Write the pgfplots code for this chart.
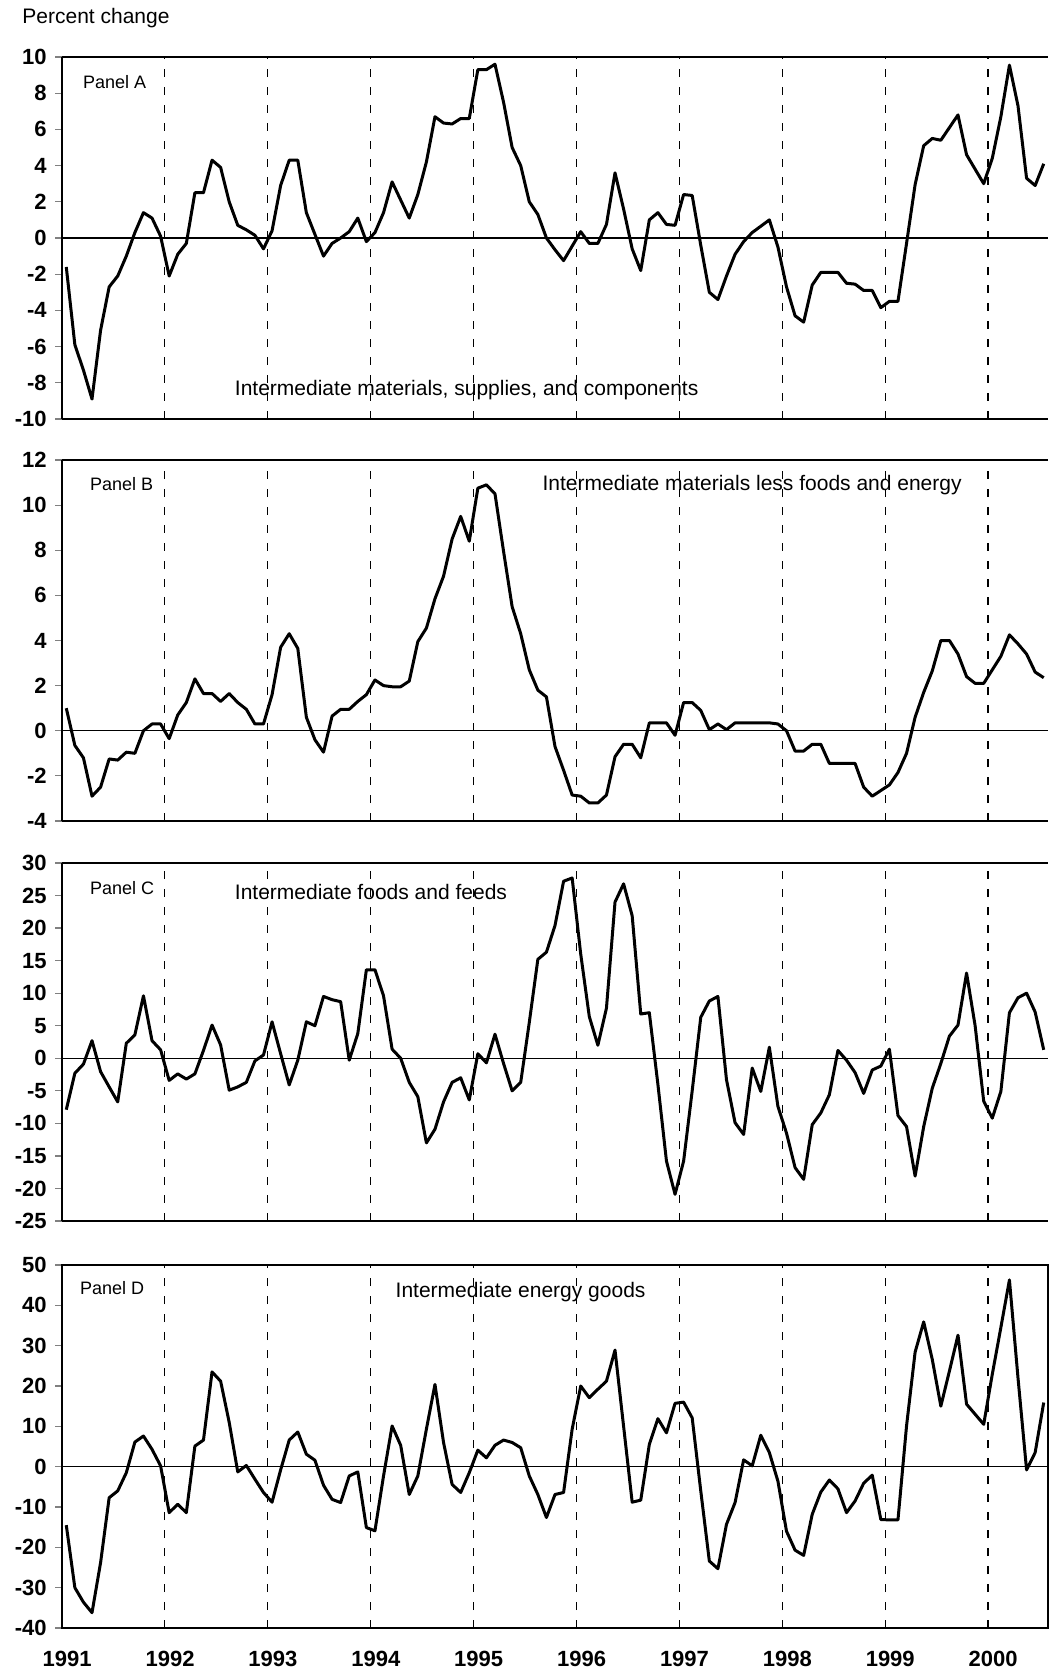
\documentclass[border=0pt]{standalone}
\usepackage{pgfplots}
\pgfplotsset{compat=1.18}
\usepackage{pgfplotstable}
\usepackage{fontspec}
\setmainfont{Liberation Sans}

% monthly percent changes, Jan 1991 - Jul 2000
\pgfplotstableread{
a b c d
-1.6 1.0 -7.9 -14.5
-5.9 -0.65 -2.3 -30.0
-7.3 -1.2 -0.9 -33.6
-8.9 -2.9 2.7 -36.2
-5.1 -2.5 -2.05 -23.8
-2.7 -1.25 -4.4 -7.7
-2.1 -1.3 -6.7 -6.0
-1.0 -0.95 2.3 -1.5
0.3 -1.0 3.6 6.1
1.4 0.0 9.6 7.6
1.1 0.3 2.7 4.3
0.1 0.3 1.3 0.2
-2.1 -0.35 -3.4 -11.4
-0.9 0.7 -2.4 -9.3
-0.3 1.25 -3.2 -11.4
2.5 2.3 -2.4 5.1
2.5 1.65 1.2 6.6
4.3 1.65 5.1 23.5
3.9 1.3 2.05 21.2
2.0 1.65 -4.9 11.0
0.7 1.25 -4.4 -1.3
0.45 0.95 -3.7 0.3
0.15 0.3 -0.4 -3.1
-0.6 0.3 0.5 -6.4
0.4 1.6 5.6 -8.8
2.9 3.7 0.7 -0.8
4.3 4.3 -4.1 6.6
4.3 3.65 -0.3 8.6
1.4 0.6 5.6 3.1
0.2 -0.4 5.0 1.6
-1.0 -0.95 9.5 -4.6
-0.3 0.65 9.0 -8.1
0.0 0.95 8.7 -8.9
0.35 0.95 -0.3 -2.3
1.1 1.3 3.8 -1.3
-0.2 1.6 13.6 -15.1
0.3 2.25 13.6 -15.9
1.4 2.0 9.6 -2.3
3.1 1.95 1.4 10.1
2.1 1.95 0.0 5.3
1.1 2.2 -3.7 -6.9
2.4 3.95 -5.9 -2.3
4.2 4.55 -13.0 9.3
6.7 5.85 -10.9 20.4
6.35 6.85 -6.7 6.0
6.3 8.5 -3.7 -4.4
6.6 9.5 -3.0 -6.4
6.6 8.4 -6.4 -1.5
9.3 10.75 0.7 4.1
9.3 10.9 -0.7 2.2
9.6 10.5 3.7 5.3
7.5 7.95 -0.8 6.6
5.0 5.5 -5.0 6.0
4.0 4.3 -3.7 4.7
2.0 2.7 5.5 -2.3
1.3 1.8 15.2 -6.9
0.0 1.5 16.3 -12.6
-0.65 -0.7 20.4 -6.9
-1.25 -1.75 27.2 -6.4
-0.45 -2.85 27.7 9.3
0.35 -2.9 16.0 20.0
-0.3 -3.2 6.4 17.1
-0.3 -3.2 2.0 19.2
0.75 -2.85 7.7 21.2
3.6 -1.15 24.0 28.9
1.6 -0.6 26.8 10.0
-0.6 -0.6 21.9 -8.8
-1.8 -1.2 6.8 -8.3
1.0 0.35 7.0 5.5
1.4 0.35 -4.0 11.9
0.75 0.35 -15.8 8.4
0.7 -0.2 -20.9 15.7
2.4 1.25 -15.8 16.0
2.35 1.25 -5.0 12.1
-0.4 0.9 6.3 -6.0
-3.0 0.05 8.8 -23.4
-3.4 0.3 9.5 -25.3
-2.1 0.05 -3.3 -14.3
-0.9 0.35 -9.9 -8.9
-0.2 0.35 -11.7 1.7
0.3 0.35 -1.5 0.2
0.65 0.35 -5.1 7.8
1.0 0.35 1.7 3.5
-0.5 0.3 -7.4 -3.6
-2.7 0.0 -11.5 -16.0
-4.3 -0.9 -16.8 -20.7
-4.65 -0.9 -18.6 -22.0
-2.6 -0.6 -10.2 -11.8
-1.9 -0.6 -8.4 -6.3
-1.9 -1.45 -5.6 -3.3
-1.9 -1.45 1.2 -5.5
-2.5 -1.45 -0.3 -11.4
-2.55 -1.45 -2.2 -8.5
-2.9 -2.5 -5.4 -4.1
-2.9 -2.9 -1.8 -2.1
-3.85 -2.65 -1.2 -13.1
-3.5 -2.4 1.4 -13.2
-3.5 -1.85 -8.8 -13.2
-0.3 -1.0 -10.5 10.1
2.95 0.6 -18.1 28.4
5.1 1.7 -10.5 35.9
5.5 2.65 -4.6 26.6
5.4 4.0 -0.8 15.0
6.1 4.0 3.4 23.7
6.8 3.4 5.1 32.6
4.6 2.4 13.1 15.5
3.8 2.1 5.0 13.0
3.0 2.1 -6.6 10.5
4.4 2.7 -9.2 22.9
6.7 3.3 -5.1 34.5
9.55 4.25 7.0 46.3
7.3 3.85 9.3 22.0
3.3 3.4 10.0 -0.8
2.9 2.6 7.1 3.5
4.1 2.35 1.3 15.9
}\ppi

\pgfplotsset{
  panel/.style={
    scale only axis, width=493pt, anchor=north west,
    xmin=0, xmax=115,
    axis x line*=box, axis y line*=left,
    axis line style={line width=0.8pt},
    xtick={12,24,36,48,60,72,84,96,108}, xticklabels={},
    xtick style={draw=none},
    xmajorgrids,
    grid style={black, line width=0.6pt, dash pattern=on 4pt off 5pt},
    tick align=outside, major tick length=3.5pt,
    ytick style={line width=0.6pt},
    /pgf/number format/assume math mode=true,
    yticklabel style={font=\fontsize{11}{12}\selectfont\bfseries, xshift=-4pt},
  },
  series/.style={black, line width=1.5pt, line join=round},
}

\newcommand{\zeroline}{\draw[line width=0.6pt] (axis cs:0,0) -- (axis cs:115,0);}

\begin{document}
\begin{tikzpicture}[every node/.append style={inner sep=0pt}]
\path[use as bounding box] (0,0) rectangle (524.5pt,-836.5pt);
\node[anchor=west, font=\fontsize{10.5}{11}\selectfont] at (11pt,-9pt) {Percent change};

% Panel A
\begin{axis}[panel, at={(31pt,-28.5pt)}, height=181pt,
  ymin=-10, ymax=10, ytick={-10,-8,...,10}]
\zeroline
\addplot[series] table[x expr=\coordindex+0.5, y=a] {\ppi};
\node[anchor=west, font=\fontsize{9}{10}\selectfont] at (rel axis cs:0.021,0.931) {Panel A};
\node[anchor=west, font=\fontsize{10.5}{11}\selectfont] at (rel axis cs:0.175,0.08) {Intermediate materials, supplies, and components};
\end{axis}

% Panel B
\begin{axis}[panel, at={(31pt,-230pt)}, height=180.5pt,
  ymin=-4, ymax=12, ytick={-4,-2,...,12}]
\zeroline
\addplot[series] table[x expr=\coordindex+0.5, y=b] {\ppi};
\node[anchor=west, font=\fontsize{9}{10}\selectfont] at (rel axis cs:0.028,0.934) {Panel B};
\node[anchor=west, font=\fontsize{10.5}{11}\selectfont] at (rel axis cs:0.487,0.93) {Intermediate materials less foods and energy};
\end{axis}

% Panel C
\begin{axis}[panel, at={(31pt,-431.5pt)}, height=179pt,
  ymin=-25, ymax=30, ytick={-25,-20,...,30}]
\zeroline
\addplot[series] table[x expr=\coordindex+0.5, y=c] {\ppi};
\node[anchor=west, font=\fontsize{9}{10}\selectfont] at (rel axis cs:0.028,0.93) {Panel C};
\node[anchor=west, font=\fontsize{10.5}{11}\selectfont] at (rel axis cs:0.175,0.919) {Intermediate foods and feeds};
\end{axis}

% Panel D
\begin{axis}[panel, at={(31pt,-632.5pt)}, height=181.5pt,
  axis y line*=box,
  ymin=-40, ymax=50, ytick={-40,-30,...,50},
  ytick pos=left,
  extra x ticks={0.6,12.6,24.6,36.6,48.6,60.6,72.6,84.6,96.6,108.6},
  extra x tick labels={1991,1992,1993,1994,1995,1996,1997,1998,1999,2000},
  extra x tick style={grid=none, major tick length=0pt,
    xticklabel style={font=\fontsize{11}{12}\selectfont\bfseries, yshift=-11.5pt}}]
\zeroline
\addplot[series] table[x expr=\coordindex+0.5, y=d] {\ppi};
\node[anchor=west, font=\fontsize{9}{10}\selectfont] at (rel axis cs:0.018,0.937) {Panel D};
\node[anchor=west, font=\fontsize{10.5}{11}\selectfont] at (rel axis cs:0.338,0.926) {Intermediate energy goods};
\end{axis}
\end{tikzpicture}
\end{document}
